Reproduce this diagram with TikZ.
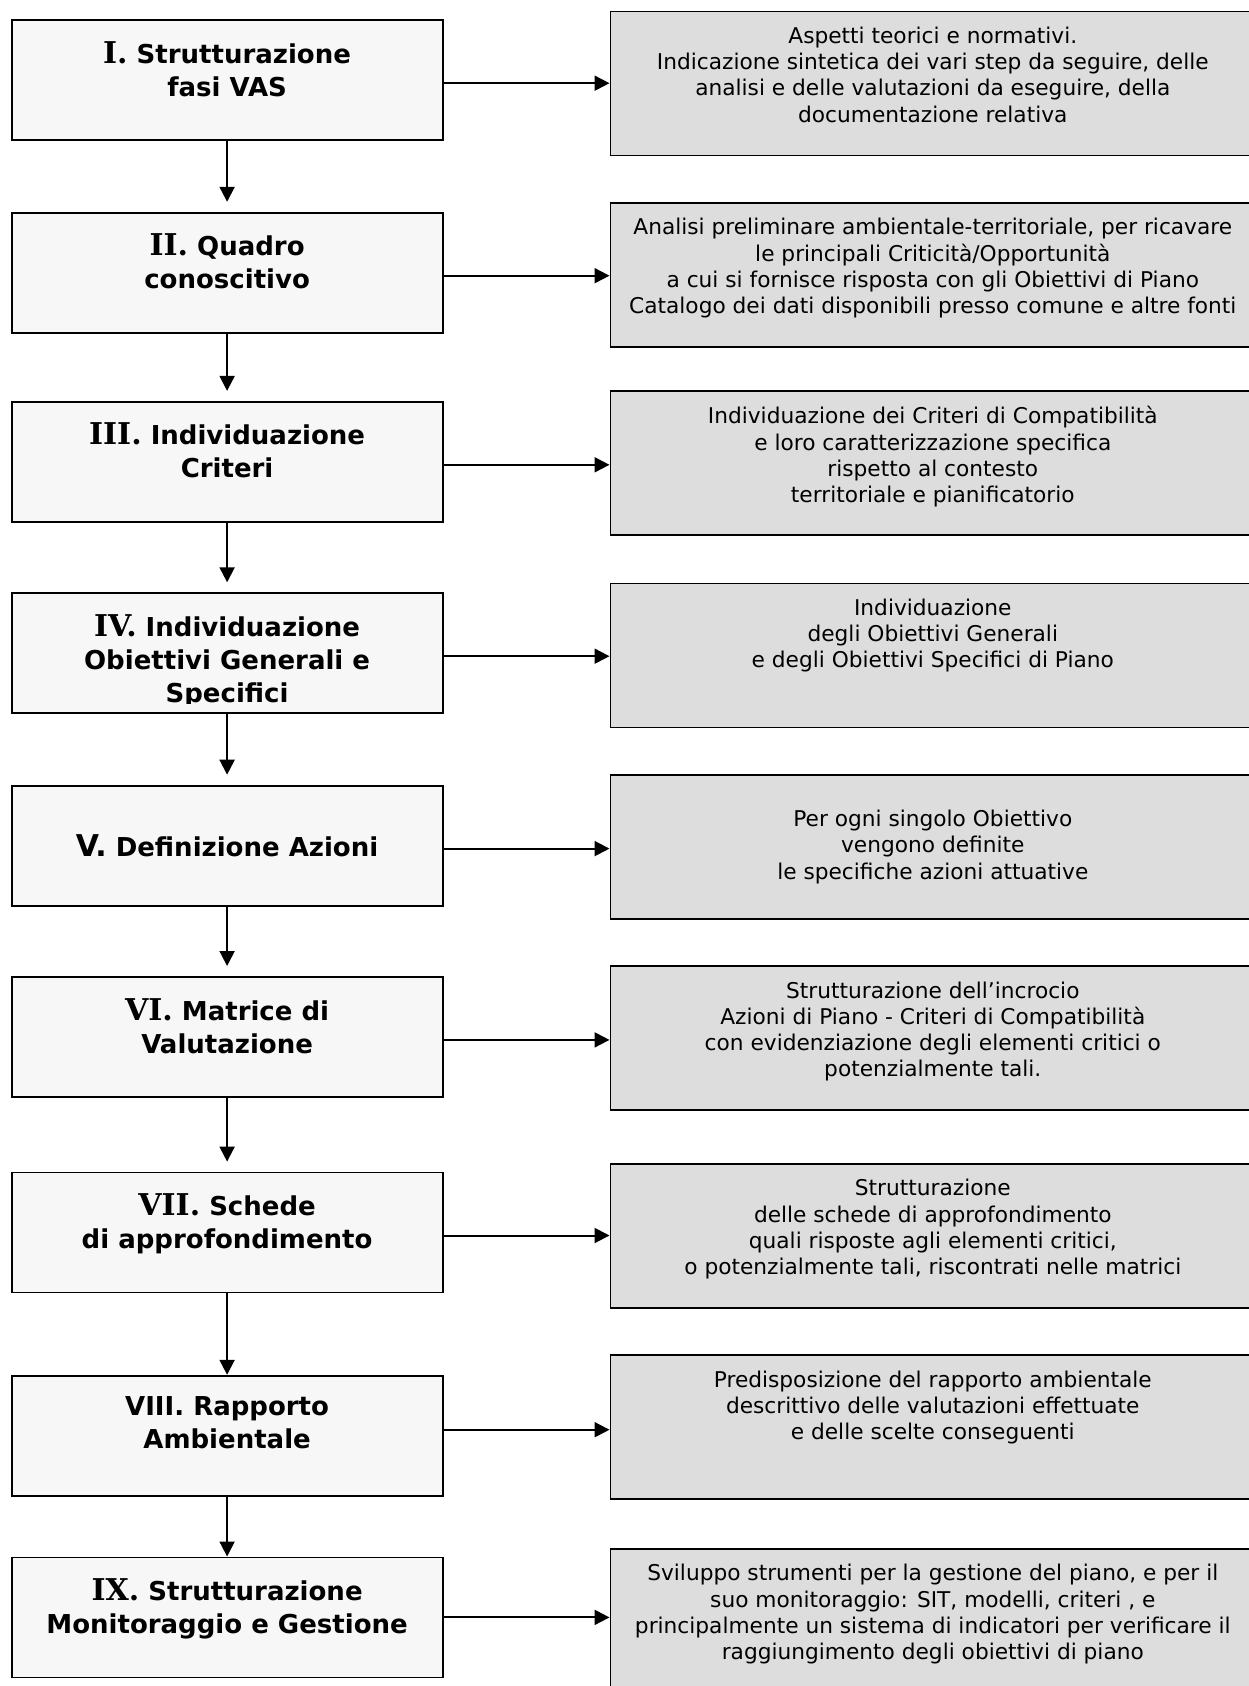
\documentclass[tikz,border=0pt]{standalone}
\usepackage{fontspec}
\setmainfont{DejaVu Sans}
\newfontfamily\romfont{DejaVu Serif}
\usetikzlibrary{arrows.meta,positioning}
\definecolor{stepfill}{RGB}{247,247,247}
\definecolor{infofill}{RGB}{221,221,221}
\newcommand{\rom}[1]{{\romfont\fontsize{30}{33}\selectfont #1}}
\newcommand{\romv}[1]{{\fontsize{30}{33}\selectfont #1}}

\begin{document}
\begin{tikzpicture}[x=1pt,y=-1pt,
  stepbox/.style={draw,line width=1.8pt,fill=stepfill,minimum width=431pt,
        minimum height=120pt,anchor=north west,inner sep=0pt},
  infobox/.style={draw,line width=1.6pt,fill=infofill,minimum width=645pt,
        minimum height=144pt,anchor=north west,inner sep=0pt},
  steptxt/.style={align=center,font=\fontsize{26}{33}\selectfont\bfseries,
        inner sep=0pt,anchor=north},
  infotxt/.style={align=center,font=\fontsize{21.7}{26.3}\selectfont,
        inner sep=0pt,anchor=north},
  arr/.style={-{Triangle[length=15pt,width=15pt]},line width=2pt},
  gap/.style={shorten >=10pt}]
  \fill[white] (0,0) rectangle (1248,1686);
  \useasboundingbox (0,0) rectangle (1248,1686);

  % left column: phases
  \node[stepbox] (s1) at (10.7,19.3) {};
  \node[stepbox] (s2) at (10.7,211.8) {};
  \node[stepbox] (s3) at (10.7,400.9) {};
  \node[stepbox] (s4) at (10.7,592.3) {};
  \node[stepbox] (s5) at (10.7,784.7) {};
  \node[stepbox] (s6) at (10.7,976.0) {};
  \node[stepbox] (s7) at (10.7,1171.6) {};
  \node[stepbox] (s8) at (10.7,1374.8) {};
  \node[stepbox] (s9) at (10.7,1556.5) {};

  \node[steptxt] (t1) at ([yshift=-22pt]s1.north) {\rom{I.} Strutturazione\\fasi VAS};
  \node[steptxt] (t2) at ([yshift=-22pt]s2.north) {\rom{II.} Quadro\\conoscitivo};
  \node[steptxt] (t3) at ([yshift=-22pt]s3.north) {\rom{III.} Individuazione\\Criteri};
  \begin{scope}
    \clip (s4.north west) rectangle ([yshift=11pt]s4.south east);
    \node[steptxt] (t4) at ([yshift=-22pt]s4.north)
      {\rom{IV.} Individuazione\\Obiettivi Generali e\\Specifici};
  \end{scope}
  \node[steptxt,anchor=center] (t5) at (s5.center) {\romv{V.} Definizione Azioni};
  \node[steptxt] (t6) at ([yshift=-22pt]s6.north) {\rom{VI.} Matrice di\\Valutazione};
  \node[steptxt] (t7) at ([yshift=-22pt]s7.north) {\rom{VII.} Schede\\di approfondimento};
  \node[steptxt] (t8) at ([yshift=-22pt]s8.north) {VIII. Rapporto\\Ambientale};
  \node[steptxt] (t9) at ([yshift=-22pt]s9.north) {\rom{IX.} Strutturazione\\Monitoraggio e Gestione};

  % right column: descriptions
  \node[infobox] (r1) at (609.5,10.7) {};
  \node[infobox] (r2) at (609.5,202.1) {};
  \node[infobox] (r3) at (609.5,390.2) {};
  \node[infobox] (r4) at (609.5,582.6) {};
  \node[infobox] (r5) at (609.5,774.0) {};
  \node[infobox] (r6) at (609.5,965.3) {};
  \node[infobox] (r7) at (609.5,1163.0) {};
  \node[infobox] (r8) at (609.5,1354.4) {};
  \node[infobox] (r9) at (609.5,1548.0) {};

  \node[infotxt] (d1) at ([yshift=-16pt]r1.north) {Aspetti teorici e normativi.\\
    Indicazione sintetica dei vari step da seguire, delle\\
    analisi e delle valutazioni da eseguire, della\\documentazione relativa};
  \node[infotxt] (d2) at ([yshift=-16pt]r2.north) {Analisi preliminare ambientale-territoriale, per ricavare\\
    le principali Criticità/Opportunità\\a cui si fornisce risposta con gli Obiettivi di Piano\\
    Catalogo dei dati disponibili presso comune e altre fonti};
  \node[infotxt] (d3) at ([yshift=-16pt]r3.north) {Individuazione dei Criteri di Compatibilità\\
    e loro caratterizzazione specifica\\rispetto al contesto\\territoriale e pianificatorio};
  \node[infotxt] (d4) at ([yshift=-16pt]r4.north) {Individuazione\\degli Obiettivi Generali\\
    e degli Obiettivi Specifici di Piano};
  \node[infotxt,anchor=center] (d5) at (r5.center) {Per ogni singolo Obiettivo\\vengono definite\\
    le specifiche azioni attuative};
  \node[infotxt] (d6) at ([yshift=-16pt]r6.north) {Strutturazione dell’incrocio\\
    Azioni di Piano - Criteri di Compatibilità\\con evidenziazione degli elementi critici o\\
    potenzialmente tali.};
  \node[infotxt] (d7) at ([yshift=-16pt]r7.north) {Strutturazione\\delle schede di approfondimento\\
    quali risposte agli elementi critici,\\o potenzialmente tali, riscontrati nelle matrici};
  \node[infotxt] (d8) at ([yshift=-16pt]r8.north) {Predisposizione del rapporto ambientale\\
    descrittivo delle valutazioni effettuate\\e delle scelte conseguenti};
  \node[infotxt] (d9) at ([yshift=-16pt]r9.north) {Sviluppo strumenti per la gestione del piano, e per il\\
    suo monitoraggio: SIT, modelli, criteri , e\\
    principalmente un sistema di indicatori per verificare il\\raggiungimento degli obiettivi di piano};

  % connectors
  \draw[arr,gap] (s1.south) -- (s2.north);
  \draw[arr,gap] (s2.south) -- (s3.north);
  \draw[arr,gap] (s3.south) -- (s4.north);
  \draw[arr,gap] (s4.south) -- (s5.north);
  \draw[arr,gap] (s5.south) -- (s6.north);
  \draw[arr,gap] (s6.south) -- (s7.north);
  \draw[arr] (s7.south) -- (s8.north);
  \draw[arr] (s8.south) -- (s9.north);
  \draw[arr] ([yshift=-3pt]s1.east) -- ([yshift=-3pt]s1.east -| r1.west);
  \draw[arr] ([yshift=-3pt]s2.east) -- ([yshift=-3pt]s2.east -| r2.west);
  \draw[arr] ([yshift=-3pt]s3.east) -- ([yshift=-3pt]s3.east -| r3.west);
  \draw[arr] ([yshift=-3pt]s4.east) -- ([yshift=-3pt]s4.east -| r4.west);
  \draw[arr] ([yshift=-3pt]s5.east) -- ([yshift=-3pt]s5.east -| r5.west);
  \draw[arr] ([yshift=-3pt]s6.east) -- ([yshift=-3pt]s6.east -| r6.west);
  \draw[arr] ([yshift=-3pt]s7.east) -- ([yshift=-3pt]s7.east -| r7.west);
  \draw[arr] ([yshift=6pt]s8.east) -- ([yshift=6pt]s8.east -| r8.west);
  \draw[arr] (s9.east) -- (s9.east -| r9.west);
\end{tikzpicture}
\end{document}
